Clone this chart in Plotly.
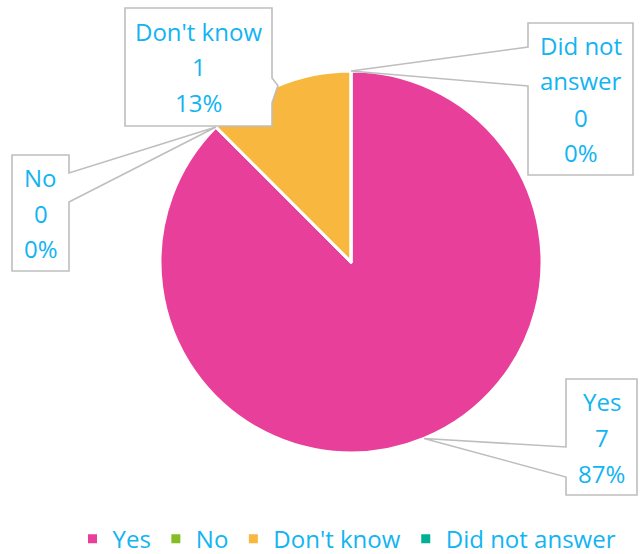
import math
import plotly.graph_objects as go

# Survey answers
categories = ["Yes", "No", "Don't know", "Did not answer"]
counts = [7, 0, 1, 0]
percent_labels = ["87%", "0%", "13%", "0%"]
# label text lines shown inside each callout (category name may wrap)
name_lines = [["Yes"], ["No"], ["Don't know"], ["Did not", "answer"]]

colors = ["#E8409A", "#86BC25", "#F8B73F", "#00B092"]
TEXT_COLOR = "#12B4F2"
BOX_LINE = "#BEBEBE"
FONT = "Open Sans"
FONT_SIZE = 24

W, H = 641, 554
PIE_CX, PIE_CY, PIE_R = 351, 262, 191

# callout boxes in pixels: (left, top, right, bottom), side facing the pie, wedge base (y0, y1)
callouts = [
    ((566, 379, 637, 495), "left", (447, 477)),
    ((12, 155, 69, 271), "right", (173, 202)),
    ((125, 8, 272, 126), "right", (78, 103)),
    ((528, 23, 633, 175), "left", (47, 86)),
]
LINE_STEP = 36


def px(x):
    return x / W


def py(y):
    return 1 - y / H


fig = go.Figure(
    go.Pie(
        labels=categories,
        values=counts,
        sort=False,
        direction="clockwise",
        rotation=0,
        marker=dict(colors=colors, line=dict(color="white", width=3)),
        textinfo="none",
        hoverinfo="skip",
        domain=dict(
            x=[px(PIE_CX - PIE_R), px(PIE_CX + PIE_R)],
            y=[py(PIE_CY + PIE_R), py(PIE_CY - PIE_R)],
        ),
    )
)

total = sum(counts)
cum = 0
shapes = []
annotations = []
for i, cat in enumerate(categories):
    mid = (cum + counts[i] / 2) / total * 2 * math.pi
    cum += counts[i]
    ax = PIE_CX + PIE_R * math.sin(mid)
    ay = PIE_CY - PIE_R * math.cos(mid)

    (x0, y0, x1, y1), side, (w0, w1) = callouts[i]
    if side == "right":
        pts = [(x0, y0), (x1, y0), (x1, w0), (ax, ay), (x1, w1), (x1, y1), (x0, y1)]
    else:
        pts = [(x0, y0), (x1, y0), (x1, y1), (x0, y1), (x0, w1), (ax, ay), (x0, w0)]
    path = "M " + " L ".join(f"{px(a):.5f},{py(b):.5f}" for a, b in pts) + " Z"
    shapes.append(
        dict(
            type="path",
            xref="paper",
            yref="paper",
            path=path,
            fillcolor="white",
            line=dict(color=BOX_LINE, width=1.6),
            layer="above",
        )
    )

    lines = name_lines[i] + [str(counts[i]), percent_labels[i]]
    cy = (y0 + y1) / 2
    n = len(lines)
    for k, t in enumerate(lines):
        ty = cy + (k - (n - 1) / 2) * LINE_STEP
        annotations.append(
            dict(
                x=px((x0 + x1) / 2),
                y=py(ty),
                xref="paper",
                yref="paper",
                text=t,
                showarrow=False,
                xanchor="center",
                yanchor="middle",
                font=dict(family=FONT, size=FONT_SIZE, color=TEXT_COLOR),
            )
        )

fig.update_layout(
    width=W,
    height=H,
    margin=dict(l=0, r=0, t=0, b=0, autoexpand=False),
    paper_bgcolor="white",
    plot_bgcolor="white",
    shapes=shapes,
    annotations=annotations,
    showlegend=True,
    legend=dict(
        orientation="h",
        x=px(PIE_CX - 4),
        xanchor="center",
        y=-0.014,
        yanchor="bottom",
        font=dict(family=FONT, size=FONT_SIZE, color=TEXT_COLOR),
        traceorder="normal",
        bgcolor="rgba(0,0,0,0)",
    ),
)

fig.write_html("out.html")
